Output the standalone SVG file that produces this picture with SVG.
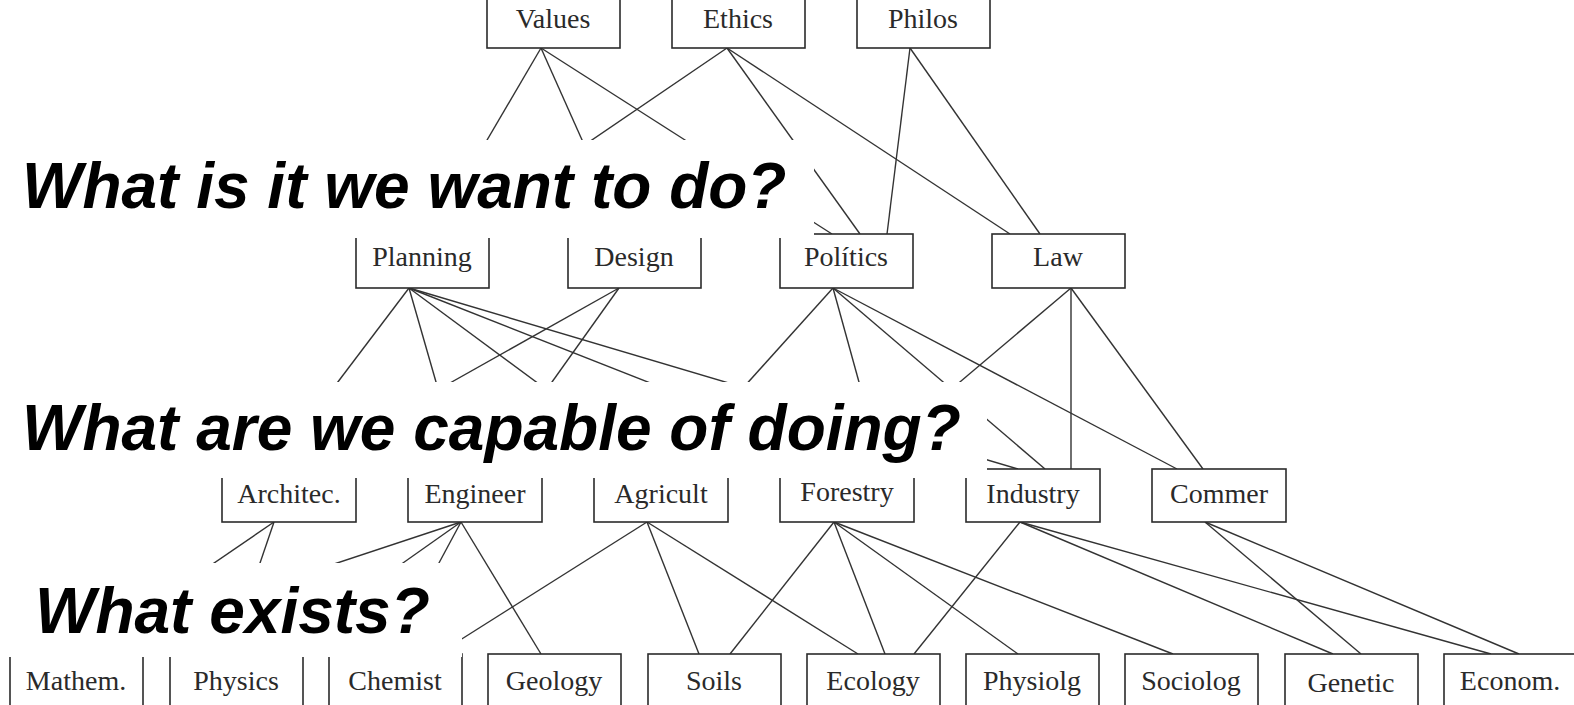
<svg xmlns="http://www.w3.org/2000/svg" width="1574" height="705" viewBox="0 0 1574 705">
<style>
.box{fill:#fff;stroke:#2b2b2b;stroke-width:1.6}
.t{font-family:"Liberation Serif","Times New Roman",serif;font-size:28px;fill:#2a2a2a;text-anchor:middle}
.e{stroke:#333;stroke-width:1.4;fill:none}
.cover{fill:#fff;stroke:none}
.q{font-family:"Liberation Sans",Arial,sans-serif;font-weight:bold;font-style:italic;font-size:64px;fill:#000}
</style>
<rect x="0" y="0" width="1574" height="705" fill="#fff"/>
<g id="connectors" class="e">
<line x1="541" y1="48" x2="432" y2="234"/>
<line x1="541" y1="48" x2="624" y2="234"/>
<line x1="541" y1="48" x2="832" y2="234"/>
<line x1="727" y1="48" x2="454" y2="234"/>
<line x1="727" y1="48" x2="860" y2="234"/>
<line x1="727" y1="48" x2="1010" y2="234"/>
<line x1="910" y1="48" x2="887" y2="234"/>
<line x1="910" y1="48" x2="1040" y2="234"/>
<line x1="409" y1="288" x2="272" y2="469"/>
<line x1="409" y1="288" x2="461" y2="469"/>
<line x1="409" y1="288" x2="654" y2="469"/>
<line x1="409" y1="288" x2="869" y2="469"/>
<line x1="409" y1="288" x2="1018" y2="469"/>
<line x1="619" y1="288" x2="297" y2="469"/>
<line x1="619" y1="288" x2="490" y2="469"/>
<line x1="833" y1="288" x2="670" y2="469"/>
<line x1="833" y1="288" x2="883" y2="469"/>
<line x1="833" y1="288" x2="1045" y2="469"/>
<line x1="833" y1="288" x2="1177" y2="469"/>
<line x1="1071" y1="288" x2="857" y2="469"/>
<line x1="1071" y1="288" x2="1071" y2="469"/>
<line x1="1071" y1="288" x2="1203" y2="469"/>
<line x1="274" y1="522" x2="81" y2="654"/>
<line x1="274" y1="522" x2="229" y2="654"/>
<line x1="461" y1="522" x2="62" y2="654"/>
<line x1="461" y1="522" x2="274" y2="654"/>
<line x1="461" y1="522" x2="390" y2="654"/>
<line x1="461" y1="522" x2="541" y2="654"/>
<line x1="647" y1="522" x2="438" y2="654"/>
<line x1="647" y1="522" x2="699" y2="654"/>
<line x1="647" y1="522" x2="858" y2="654"/>
<line x1="834" y1="522" x2="730" y2="654"/>
<line x1="834" y1="522" x2="885" y2="654"/>
<line x1="834" y1="522" x2="1018" y2="654"/>
<line x1="834" y1="522" x2="1173" y2="654"/>
<line x1="1020" y1="522" x2="914" y2="654"/>
<line x1="1020" y1="522" x2="1333" y2="654"/>
<line x1="1020" y1="522" x2="1491" y2="654"/>
<line x1="1205" y1="522" x2="1361" y2="654"/>
<line x1="1205" y1="522" x2="1519" y2="654"/>
</g>
<g id="node-values"><rect class="box" x="487" y="-10" width="133" height="58"/><text class="t" x="553" y="28">Values</text></g>
<g id="node-ethics"><rect class="box" x="672" y="-10" width="133" height="58"/><text class="t" x="738" y="28">Ethics</text></g>
<g id="node-philos"><rect class="box" x="857" y="-10" width="133" height="58"/><text class="t" x="923" y="28">Philos</text></g>
<g id="node-planning"><rect class="box" x="356" y="234" width="133" height="54"/><text class="t" x="422" y="266">Planning</text></g>
<g id="node-design"><rect class="box" x="568" y="234" width="133" height="54"/><text class="t" x="634" y="266">Design</text></g>
<g id="node-politics"><rect class="box" x="780" y="234" width="133" height="54"/><text class="t" x="846" y="266">Polítics</text></g>
<g id="node-law"><rect class="box" x="992" y="234" width="133" height="54"/><text class="t" x="1058" y="266">Law</text></g>
<g id="node-architec"><rect class="box" x="222" y="469" width="134" height="53"/><text class="t" x="289" y="503">Architec.</text></g>
<g id="node-engineer"><rect class="box" x="408" y="469" width="134" height="53"/><text class="t" x="475" y="503">Engineer</text></g>
<g id="node-agricult"><rect class="box" x="594" y="469" width="134" height="53"/><text class="t" x="661" y="503">Agricult</text></g>
<g id="node-forestry"><rect class="box" x="780" y="469" width="134" height="53"/><text class="t" x="847" y="501">Forestry</text></g>
<g id="node-industry"><rect class="box" x="966" y="469" width="134" height="53"/><text class="t" x="1033" y="503">Industry</text></g>
<g id="node-commer"><rect class="box" x="1152" y="469" width="134" height="53"/><text class="t" x="1219" y="503">Commer</text></g>
<g id="node-mathem"><rect class="box" x="10" y="654" width="133" height="70"/><text class="t" x="76" y="690">Mathem.</text></g>
<g id="node-physics"><rect class="box" x="170" y="654" width="133" height="70"/><text class="t" x="236" y="690">Physics</text></g>
<g id="node-chemist"><rect class="box" x="329" y="654" width="133" height="70"/><text class="t" x="395" y="690">Chemist</text></g>
<g id="node-geology"><rect class="box" x="488" y="654" width="133" height="70"/><text class="t" x="554" y="690">Geology</text></g>
<g id="node-soils"><rect class="box" x="648" y="654" width="133" height="70"/><text class="t" x="714" y="690">Soils</text></g>
<g id="node-ecology"><rect class="box" x="807" y="654" width="133" height="70"/><text class="t" x="873" y="690">Ecology</text></g>
<g id="node-physiolg"><rect class="box" x="966" y="654" width="133" height="70"/><text class="t" x="1032" y="690">Physiolg</text></g>
<g id="node-sociolog"><rect class="box" x="1125" y="654" width="133" height="70"/><text class="t" x="1191" y="690">Sociolog</text></g>
<g id="node-genetic"><rect class="box" x="1285" y="654" width="133" height="70"/><text class="t" x="1351" y="692">Genetic</text></g>
<g id="node-econom"><rect class="box" x="1444" y="654" width="133" height="70"/><text class="t" x="1510" y="690">Econom.</text></g>
<g id="labels">
<rect class="cover" x="0" y="140" width="814" height="98"/>
<text class="q" x="22" y="208">What is it we want to do?</text>
<rect class="cover" x="0" y="382" width="987" height="96"/>
<text class="q" x="22" y="450">What are we capable of doing?</text>
<rect class="cover" x="0" y="563" width="462" height="94"/>
<text class="q" x="35" y="633">What exists?</text>
</g>
</svg>
